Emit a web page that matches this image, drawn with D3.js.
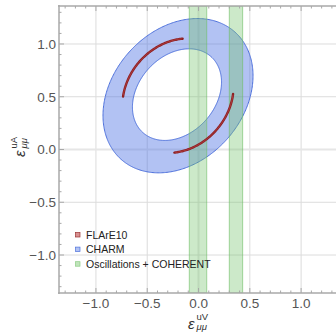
<!DOCTYPE html>
<html>
<head>
<meta charset="utf-8">
<script src="https://cdn.jsdelivr.net/npm/d3@7"></script>
<style>
  body { margin: 0; background: #fff; }
  svg { display: block; }
</style>
</head>
<body>
<div id="chart"></div>
<script>
// axis ticks
const xTicks = [-1.0, -0.5, 0.0, 0.5, 1.0];
const yTicks = [-1.0, -0.5, 0.0, 0.5, 1.0];
const legendNames = ["FLArE10", "CHARM", "Oscillations + COHERENT"];

// ellipses: [centre x, centre y, semi-axis a, semi-axis b, tilt in degrees]
const charmOuter = [-0.2, 0.51, 0.82, 0.63, 45];
const charmInner = [-0.21, 0.52, 0.49, 0.37, 45];
const flareEllipse = [-0.2, 0.51, 0.585, 0.495, 45];
// FLArE10 arcs, parameter angle ranges on flareEllipse
const flareArcs = [[45, 131], [226, 312]];
// oscillations + COHERENT allowed bands in eps^uV
const oscBands = [[-0.09, 0.08], [0.30, 0.43]];

const W = 336, H = 334;
const svg = d3.select("#chart").append("svg")
    .attr("width", W).attr("height", H)
    .style("font-family", "'Liberation Sans', Arial, sans-serif");

const x = d3.scaleLinear().domain([-1.36, 1.34]).range([59, 336]);
const y = d3.scaleLinear().domain([-1.36, 1.36]).range([293, 6]);

svg.append("defs").append("clipPath").attr("id", "plotclip")
  .append("rect").attr("x", 59).attr("y", 6).attr("width", 277).attr("height", 287);

// grid lines
let grid = svg.append("g");
grid.selectAll(".gx").data(xTicks).enter().append("line")
  .attr("x1", d => x(d)).attr("x2", d => x(d))
  .attr("y1", y.range()[1]).attr("y2", y.range()[0])
  .attr("stroke", d => d === 0 ? "#e6e6e6" : "#dcdcdc")
  .attr("stroke-width", d => d === 0 ? 2 : 1);
grid.selectAll(".gy").data(yTicks).enter().append("line")
  .attr("y1", d => y(d)).attr("y2", d => y(d))
  .attr("x1", x.range()[0]).attr("x2", x.range()[1])
  .attr("stroke", d => d === 0 ? "#e6e6e6" : "#dcdcdc")
  .attr("stroke-width", d => d === 0 ? 2 : 1);

function ellipsePts(e, t0, t1) {
  let [cx, cy, a, b, th] = e;
  let r = th * Math.PI / 180, pts = [];
  for (let t = t0; t <= t1 + 1e-9; t += 1) {
    let s = t * Math.PI / 180;
    let u = a * Math.cos(s), v = b * Math.sin(s);
    pts.push([cx + u * Math.cos(r) - v * Math.sin(r), cy + u * Math.sin(r) + v * Math.cos(r)]);
  }
  return pts;
}

let line = d3.line().x(d => x(d[0])).y(d => y(d[1]));
let plot = svg.append("g").attr("clip-path", "url(#plotclip)");

// CHARM ring
plot.append("path")
  .attr("d", line(ellipsePts(charmOuter, 0, 360)) + "Z" + line(ellipsePts(charmInner, 0, 360)) + "Z")
  .attr("fill", "rgba(80,115,228,0.44)")
  .attr("fill-rule", "evenodd")
  .attr("stroke", "#4f72dc")
  .attr("stroke-width", 1);

// oscillation bands
plot.selectAll(".band").data(oscBands).enter().append("rect")
  .attr("x", d => x(d[0])).attr("width", d => x(d[1]) - x(d[0]))
  .attr("y", y.range()[1]).attr("height", y.range()[0] - y.range()[1])
  .attr("fill", "rgba(115,195,105,0.36)")
  .attr("stroke", "rgba(110,190,100,0.6)")
  .attr("stroke-width", 1);

// FLArE10 arcs
plot.selectAll(".arc").data(flareArcs).enter().append("path")
  .attr("d", d => line(ellipsePts(flareEllipse, d[0], d[1])))
  .attr("fill", "none").attr("stroke", "#8e1f22").attr("stroke-width", 2.4)
  .attr("stroke-linecap", "round");
plot.selectAll(".arc2").data(flareArcs).enter().append("path")
  .attr("d", d => line(ellipsePts(flareEllipse, d[0] + 1, d[1] - 1)))
  .attr("fill", "none").attr("stroke", "#b8474a").attr("stroke-width", 0.7);

// frame and ticks
let frame = svg.append("g");
const fc = "#a8a8a8";
frame.append("line").attr("x1", 59).attr("x2", 59).attr("y1", 5).attr("y2", 294).attr("stroke", fc).attr("stroke-width", 1.5);
frame.append("line").attr("x1", 58).attr("x2", 336).attr("y1", 293).attr("y2", 293).attr("stroke", fc).attr("stroke-width", 1.5);
frame.append("line").attr("x1", 58).attr("x2", 336).attr("y1", 6).attr("y2", 6).attr("stroke", fc).attr("stroke-width", 1.5);

let minorX = d3.range(-13, 14).map(i => i / 10);
let minorY = d3.range(-13, 14).map(i => i / 10);
function isMajor(v) { return Math.abs(v * 2 - Math.round(v * 2)) < 1e-6; }
minorX.forEach(v => {
  let len = isMajor(v) ? 5 : 2.5;
  frame.append("line").attr("x1", x(v)).attr("x2", x(v)).attr("y1", 293).attr("y2", 293 - len).attr("stroke", fc);
  frame.append("line").attr("x1", x(v)).attr("x2", x(v)).attr("y1", 6).attr("y2", 6 + len).attr("stroke", fc);
});
minorY.forEach(v => {
  let len = isMajor(v) ? 5 : 2.5;
  frame.append("line").attr("y1", y(v)).attr("y2", y(v)).attr("x1", 59).attr("x2", 59 + len).attr("stroke", fc);
});

const fmt = v => (v < 0 ? "\u2212" : "") + Math.abs(v).toFixed(1);
svg.selectAll(".xt").data(xTicks).enter().append("text")
  .attr("x", d => x(d)).attr("y", 308)
  .attr("text-anchor", "middle").attr("font-size", 13.5).attr("fill", "#555")
  .text(fmt);
svg.selectAll(".yt").data(yTicks).enter().append("text")
  .attr("x", 56).attr("y", d => y(d)).attr("dy", "0.36em")
  .attr("text-anchor", "end").attr("font-size", 13.5).attr("fill", "#555")
  .text(fmt);

// axis labels eps^{sup}_{mumu}, one text each
function epsLabel(g, sup) {
  let t = g.append("text").attr("x", 0).attr("y", 0).attr("fill", "#333");
  t.append("tspan").attr("font-size", 15).attr("font-style", "italic").text("\u03b5");
  t.append("tspan").attr("x", 8.5).attr("dy", -8.5).attr("font-size", 9.5).text(sup);
  t.append("tspan").attr("x", 8.5).attr("dy", 10).attr("font-size", 9.5).attr("font-style", "italic").text("\u03bc\u03bc");
}
epsLabel(svg.append("g").attr("transform", "translate(188,328.5)"), "uV");
epsLabel(svg.append("g").attr("transform", "translate(25,157) rotate(-90)"), "uA");

// legend
const legendFill = ["rgba(190,70,70,0.6)", "rgba(80,115,228,0.44)", "rgba(115,195,105,0.45)"];
const legendStroke = ["#9a3434", "#4f72dc", "#8ccc84"];
let legend = svg.selectAll(".legend").data(legendNames).enter().append("g")
  .attr("transform", (d, i) => "translate(75.5," + (232.5 + i * 14.6) + ")");
legend.append("rect").attr("width", 4.5).attr("height", 4.5)
  .attr("fill", (d, i) => legendFill[i]).attr("stroke", (d, i) => legendStroke[i]).attr("stroke-width", 0.7);
legend.append("text").attr("x", 10.5).attr("y", 6).attr("font-size", 10.5).attr("fill", "#222").text(d => d);
</script>
</body>
</html>
